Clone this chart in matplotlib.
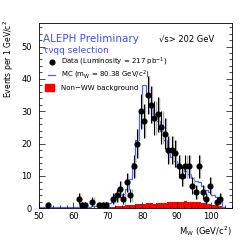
import numpy as np
import matplotlib
matplotlib.use("Agg")
import matplotlib.pyplot as plt
from matplotlib.ticker import MultipleLocator
from matplotlib.patches import Rectangle

# Data points (bin centres, counts)
data_x = [52.5, 61.5, 62.5, 63.5, 65.5, 67.5, 68.5, 69.5, 71.5, 72.5, 73.5, 74.5,
          75.5, 76.5, 77.5, 78.5, 79.5, 80.5, 81.5, 82.5, 83.5, 84.5, 85.5, 86.5,
          87.5, 88.5, 89.5, 90.5, 91.5, 92.5, 93.5, 94.5, 95.5, 96.5, 97.5, 98.5,
          99.5, 101.5, 102.5]
data_y = [1, 3, 1, 1, 2, 1, 1, 1, 3, 4, 6, 3,
          8, 4, 13, 20, 30, 27, 35, 32, 28, 29, 25, 23,
          18, 18, 17, 13, 10, 13, 13, 7, 5, 13, 5, 3,
          7, 2, 3]

# MC histogram (1 GeV bins from 50 to 105)
bin_edges = list(range(50, 106))
mc_vals = [0.3, 0.3, 0.3, 0.3, 0.3, 0.3, 0.3, 0.3, 0.3, 0.3,   # 50-59
           0.4, 0.4, 0.4, 0.5, 0.5, 0.6, 0.7, 0.8, 1.0, 1.2,   # 60-69
           1.5, 2.0, 2.8, 3.5, 4.5, 6.0, 9.0, 14.0, 21.0, 30.0,  # 70-79
           38.0, 35.0, 32.0, 29.0, 27.0, 24.0, 21.0, 17.0, 16.0, 14.5,  # 80-89
           13.0, 12.5, 11.5, 10.5, 9.5, 8.5, 8.0, 7.0, 5.5, 5.0,  # 90-99
           4.0, 3.5, 2.5, 0.5, 0.2]                              # 100-104
bkg_vals = [0.08] * 20 + [
           0.3, 0.4, 0.6, 0.7, 0.8, 0.9, 1.0, 1.1, 1.2, 1.3,
           1.4, 1.6, 1.5, 1.4, 1.5, 1.6, 1.7, 1.8, 1.9, 2.0,
           1.9, 2.0, 2.1, 2.0, 1.9, 2.0, 1.8, 1.6, 1.5, 1.3,
           1.1, 0.9, 0.7, 0.3, 0.0]

x_ticks = [50, 60, 70, 80, 90, 100]
y_ticks = [0, 10, 20, 30, 40, 50]

fig = plt.figure(figsize=(2.45, 2.45), dpi=100)
ax = fig.add_axes([0.159, 0.150, 0.788, 0.755])

ax.stairs(bkg_vals, bin_edges, fill=True, color="#ff0000", linewidth=0)
ax.stairs(mc_vals, bin_edges, color="#5060ff", linewidth=0.9)

err = np.sqrt(np.array(data_y, dtype=float))
ax.errorbar(np.array(data_x) + 0.35, data_y, yerr=err, fmt="none",
            ecolor="#b0b0b0", elinewidth=1.0, capsize=0)
ax.errorbar(data_x, data_y, yerr=err, fmt="o", color="black",
            markersize=3.4, elinewidth=0.8, capsize=0)

ax.set_xlim(50, 106)
ax.set_ylim(0, 57.2)
ax.set_xticks(x_ticks)
ax.set_yticks(y_ticks)
ax.xaxis.set_minor_locator(MultipleLocator(2))
ax.yaxis.set_minor_locator(MultipleLocator(2))
ax.tick_params(which="both", direction="in", top=False, right=True,
               labelsize=6, width=0.5)
ax.tick_params(axis="y", pad=5)
ax.tick_params(axis="x", pad=2.5)
ax.tick_params(which="major", length=4)
ax.tick_params(which="minor", length=2)
for s in ax.spines.values():
    s.set_linewidth(0.6)

fig.text(0.035, 0.92, "Events per 1 GeV/c$^2$", rotation=90, ha="center",
         va="top", fontsize=5.5)
fig.text(0.947, 0.058, "M$_\\mathrm{W}$ (GeV/c$^2$)", ha="right", va="center",
         fontsize=6)

ax.text(0.02, 0.915, "ALEPH Preliminary", transform=ax.transAxes, color="#4050ff",
        fontsize=7.5, ha="left", va="center")
ax.text(0.02, 0.855, "τνqq selection", transform=ax.transAxes, color="#4050ff",
        fontsize=6.5, ha="left", va="center")
ax.text(0.62, 0.915, "√s> 202 GeV", transform=ax.transAxes, color="black",
        fontsize=6, ha="left", va="center")

# Legend
ax.plot([0.065], [0.79], "o", color="black", markersize=3.4, transform=ax.transAxes)
ax.text(0.115, 0.79, "Data (Luminosity = 217 pb$^{-1}$)", transform=ax.transAxes,
        fontsize=5, ha="left", va="center")
ax.plot([0.045, 0.083], [0.72, 0.72], color="#5060ff", linewidth=0.9,
        transform=ax.transAxes)
ax.text(0.115, 0.72, "MC (m$_\\mathrm{W}$ = 80.38 GeV/c$^2$)", transform=ax.transAxes,
        fontsize=5, ha="left", va="center")
ax.add_patch(Rectangle((0.03, 0.635), 0.05, 0.035, transform=ax.transAxes,
                       color="#ff0000"))
ax.text(0.115, 0.652, "Non−WW background", transform=ax.transAxes,
        fontsize=5, ha="left", va="center")

fig.savefig("out.png", dpi=100)
